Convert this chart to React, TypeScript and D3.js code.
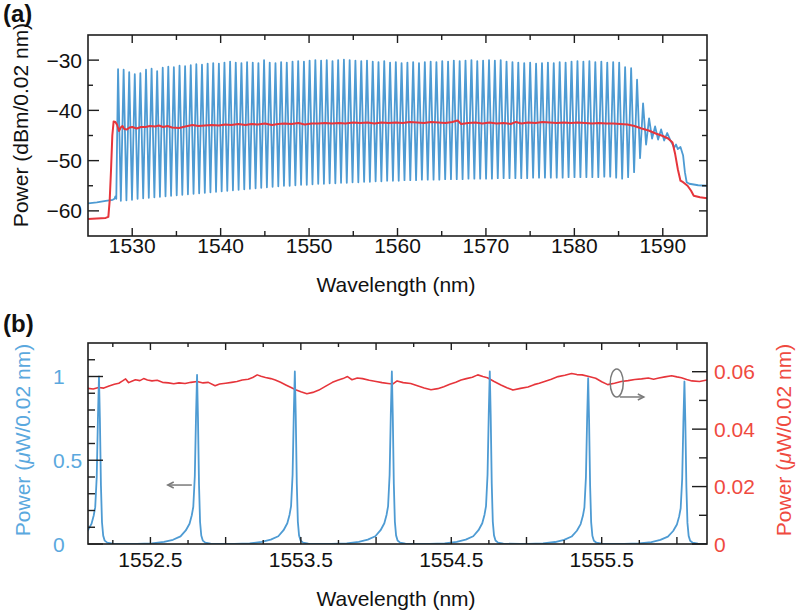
import React from 'react';
import * as d3 from 'd3';

const FONT = '"Liberation Sans", Arial, Helvetica, sans-serif';
const BLUE = '#4e9bd3';
const RED = '#e6353b';
const BLUE_TEXT = '#5aa8de';
const RED_TEXT = '#ef4a3f';
const AXIS = '#1e1e1e';
const GREY = '#7a7a7a';

// ---------------- Panel (a) data ----------------
const combWavelength = [
  1528.40, 1529.03, 1529.66, 1530.29, 1530.92, 1531.56, 1532.19, 1532.82, 1533.45, 1534.08,
  1534.71, 1535.35, 1535.98, 1536.62, 1537.25, 1537.89, 1538.53, 1539.16, 1539.80, 1540.43,
  1541.07, 1541.71, 1542.35, 1542.99, 1543.63, 1544.27, 1544.91, 1545.55, 1546.20, 1546.84,
  1547.48, 1548.13, 1548.77, 1549.42, 1550.06, 1550.71, 1551.36, 1552.00, 1552.65, 1553.29,
  1553.94, 1554.59, 1555.24, 1555.90, 1556.55, 1557.20, 1557.85, 1558.50, 1559.16, 1559.81,
  1560.46, 1561.12, 1561.77, 1562.43, 1563.09, 1563.75, 1564.40, 1565.06, 1565.72, 1566.37,
  1567.03, 1567.69, 1568.36, 1569.02, 1569.68, 1570.35, 1571.01, 1571.67, 1572.33, 1573.00,
  1573.66, 1574.33, 1575.00, 1575.67, 1576.34, 1577.01, 1577.67, 1578.34, 1579.01, 1579.68,
  1580.35, 1581.02, 1581.70, 1582.37, 1583.05, 1583.72, 1584.39, 1585.07, 1585.74, 1586.42,
  1587.09, 1587.77, 1588.45, 1589.13, 1589.81, 1590.50,
];
const combPeak = [
  -31.8, -31.9, -32.4, -32.8, -32.6, -31.9, -31.7, -32.2, -31.5, -31.3,
  -31.4, -31.1, -31.2, -31.0, -30.8, -30.9, -30.7, -30.6, -30.7, -30.5,
  -30.3, -30.5, -30.6, -30.4, -30.5, -30.6, -30.0, -30.5, -30.6, -30.4,
  -30.5, -30.3, -30.2, -30.3, -30.1, -30.0, -30.1, -30.0, -30.2, -30.0,
  -29.9, -30.0, -30.1, -30.2, -30.1, -30.3, -30.4, -30.2, -30.5, -30.4,
  -30.6, -30.5, -30.4, -30.6, -30.4, -30.3, -30.4, -30.2, -30.3, -30.1,
  -30.2, -30.1, -30.0, -30.2, -30.1, -30.0, -30.1, -30.0, -30.3, -30.4,
  -30.5, -30.6, -30.5, -30.7, -30.6, -30.5, -30.6, -30.4, -30.5, -30.3,
  -30.2, -30.3, -30.2, -30.4, -30.3, -30.5, -30.4, -30.5, -31.4, -31.6,
  -33.9, -38.6, -41.6, -43.2, -43.8, -44.5,
];
const combTrough = [
  -58.0, -57.9, -57.8, -57.6, -57.5, -57.4, -57.3, -57.2, -57.1, -57.0,
  -56.9, -56.8, -56.7, -56.6, -56.5, -56.4, -56.3, -56.2, -56.1, -56.0,
  -55.9, -55.8, -55.7, -55.6, -55.5, -55.4, -55.3, -55.2, -55.1, -55.0,
  -55.0, -54.9, -54.8, -54.8, -54.7, -54.6, -54.6, -54.5, -54.5, -54.4,
  -54.4, -54.3, -54.3, -54.2, -54.2, -54.1, -54.1, -54.0, -54.0, -54.0,
  -53.9, -53.9, -53.9, -53.8, -53.8, -53.8, -53.8, -53.7, -53.7, -53.7,
  -53.7, -53.6, -53.6, -53.6, -53.6, -53.6, -53.5, -53.5, -53.5, -53.5,
  -53.5, -53.5, -53.4, -53.4, -53.4, -53.4, -53.4, -53.4, -53.3, -53.3,
  -53.3, -53.3, -53.3, -53.3, -53.2, -53.2, -53.4, -53.6, -53.3, -52.3,
  -49.5, -46.8, -45.6, -45.8, -46.0,
];
const blueStartWl = [1525.0, 1526.0, 1527.0, 1527.8, 1528.0, 1528.1, 1528.2];
const blueStartDb = [-58.5, -58.3, -58.0, -57.8, -57.6, -57.1, -57.6];
const blueTailWl = [1590.9, 1591.3, 1591.5, 1591.7, 1592.0, 1592.3, 1592.5, 1592.7, 1593.0, 1594.0, 1595.0];
const blueTailDb = [-46.1, -47.4, -46.8, -47.7, -47.3, -49.0, -52.3, -54.3, -54.6, -54.9, -55.0];

const redWl = [
  1525.0, 1526.0, 1527.0, 1527.3, 1527.45, 1527.6, 1527.75, 1527.9, 1528.1, 1528.3,
  1528.5, 1528.7, 1528.9, 1529.1, 1529.4, 1529.7, 1530.0, 1530.5, 1531.0, 1531.5,
  1532.0, 1532.6, 1533.0, 1533.5, 1534.0, 1534.5, 1535.3, 1536.0, 1536.8, 1537.5,
  1538.2, 1539.0, 1539.8, 1540.5, 1541.2, 1542.0, 1542.8, 1543.5, 1544.2, 1545.0,
  1545.8, 1546.5, 1547.2, 1548.0, 1548.8, 1549.5, 1550.3, 1551.0, 1551.8, 1552.6,
  1553.4, 1554.1, 1555.0, 1555.8, 1556.6, 1557.4, 1558.2, 1559.0, 1559.8, 1560.6,
  1561.4, 1562.2, 1563.0, 1563.8, 1564.6, 1565.4, 1566.2, 1566.8, 1567.2, 1568.0,
  1568.8, 1569.6, 1570.4, 1571.2, 1572.0, 1572.8, 1573.4, 1574.0, 1574.8, 1575.6,
  1576.4, 1577.2, 1578.0, 1578.8, 1579.6, 1580.4, 1581.2, 1582.0, 1582.8, 1583.6,
  1584.4, 1585.2, 1586.0, 1586.8, 1587.6, 1588.4, 1589.2, 1590.0, 1590.6, 1591.1,
  1591.4, 1591.7, 1592.0, 1592.3, 1592.8, 1593.2, 1593.5, 1594.2, 1595.0,
];
const redDb = [
  -61.6, -61.5, -61.4, -61.2, -58.0, -52.0, -45.0, -42.2, -42.3, -42.9,
  -44.1, -43.4, -43.1, -43.7, -43.8, -43.4, -43.3, -43.6, -43.3, -43.3,
  -43.1, -43.2, -43.0, -43.3, -43.1, -43.4, -43.5, -43.2, -42.9, -43.1,
  -43.0, -42.9, -43.0, -42.8, -42.9, -42.7, -42.9, -42.7, -42.8, -42.6,
  -42.9, -42.7, -42.6, -42.7, -42.5, -42.8, -42.6, -42.6, -42.5, -42.6,
  -42.5, -42.6, -42.4, -42.5, -42.4, -42.6, -42.4, -42.5, -42.4, -42.5,
  -42.3, -42.4, -42.5, -42.3, -42.4, -42.5, -42.3, -42.0, -42.7, -42.5,
  -42.4, -42.6, -42.4, -42.6, -42.5, -42.7, -42.3, -42.6, -42.4, -42.5,
  -42.3, -42.4, -42.5, -42.4, -42.5, -42.4, -42.5, -42.6, -42.5, -42.6,
  -42.6, -42.7, -42.8, -43.1, -43.6, -44.0, -44.6, -45.1, -45.6, -46.4,
  -48.7, -51.7, -54.0, -54.3, -55.0, -56.0, -57.0, -57.3, -57.5,
];

const aXMajor = [1530, 1540, 1550, 1560, 1570, 1580, 1590];
const aXMinor = [1535, 1545, 1555, 1565, 1575, 1585];
const aYMajor = [-60, -50, -40, -30];
const aYMinor = [-55, -45, -35];

// ---------------- Panel (b) data ----------------
const peakCenter = [1552.158, 1552.81, 1553.46, 1554.105, 1554.756, 1555.41, 1556.05];
const peakHeight = [1.0, 1.01, 1.03, 1.03, 1.03, 0.99, 0.97];
const profileOffset = [-0.40, -0.30, -0.22, -0.16, -0.11, -0.075, -0.05, -0.035, -0.025, -0.015, -0.007, 0, 0.006, 0.013, 0.02, 0.028, 0.038, 0.055, 0.09, 0.20];
const profileLevel = [0.0, 0.004, 0.012, 0.025, 0.045, 0.08, 0.12, 0.17, 0.22, 0.40, 0.75, 1.0, 0.75, 0.35, 0.13, 0.05, 0.02, 0.008, 0.002, 0.0];

const redBWl = [
  1552.085, 1552.12, 1552.155, 1552.19, 1552.225, 1552.26, 1552.29, 1552.315, 1552.335, 1552.355,
  1552.38, 1552.40, 1552.43, 1552.455, 1552.48, 1552.51, 1552.545, 1552.58, 1552.62, 1552.655,
  1552.69, 1552.73, 1552.77, 1552.81, 1552.85, 1552.885, 1552.93, 1552.96, 1553.00, 1553.04,
  1553.075, 1553.11, 1553.15, 1553.18, 1553.21, 1553.235, 1553.265, 1553.30, 1553.33, 1553.365,
  1553.40, 1553.435, 1553.465, 1553.50, 1553.54, 1553.58, 1553.62, 1553.66, 1553.71, 1553.745,
  1553.78, 1553.81, 1553.84, 1553.875, 1553.91, 1553.955, 1554.00, 1554.04, 1554.08, 1554.11,
  1554.14, 1554.18, 1554.23, 1554.27, 1554.32, 1554.365, 1554.41, 1554.45, 1554.49, 1554.53,
  1554.565, 1554.60, 1554.64, 1554.676, 1554.71, 1554.74, 1554.785, 1554.83, 1554.87, 1554.91,
  1554.96, 1555.01, 1555.05, 1555.085, 1555.12, 1555.165, 1555.21, 1555.255, 1555.30, 1555.335,
  1555.37, 1555.415, 1555.46, 1555.50, 1555.54, 1555.585, 1555.63, 1555.675, 1555.72, 1555.765,
  1555.81, 1555.845, 1555.88, 1555.92, 1555.965, 1556.00, 1556.03, 1556.065, 1556.10, 1556.15,
  1556.20,
];
const redBVal = [
  0.0542, 0.0540, 0.0545, 0.0543, 0.0550, 0.0556, 0.0560, 0.0568, 0.0575, 0.0562,
  0.0568, 0.0572, 0.0569, 0.0576, 0.0571, 0.0568, 0.0570, 0.0563, 0.0561, 0.0558,
  0.0561, 0.0559, 0.0563, 0.0566, 0.0561, 0.0563, 0.0551, 0.0557, 0.0560, 0.0563,
  0.0566, 0.0571, 0.0574, 0.0580, 0.0589, 0.0584, 0.0580, 0.0576, 0.0571, 0.0563,
  0.0554, 0.0545, 0.0537, 0.0530, 0.0523, 0.0528, 0.0536, 0.0548, 0.0563, 0.0570,
  0.0576, 0.0583, 0.0572, 0.0578, 0.0576, 0.0570, 0.0566, 0.0562, 0.0559, 0.0557,
  0.0568, 0.0562, 0.0559, 0.0552, 0.0543, 0.0537, 0.0541, 0.0548, 0.0556, 0.0563,
  0.0571, 0.0576, 0.0581, 0.0589, 0.0583, 0.0579, 0.0566, 0.0554, 0.0544, 0.0536,
  0.0542, 0.0547, 0.0555, 0.0560, 0.0566, 0.0574, 0.0583, 0.0588, 0.0594, 0.0590,
  0.0589, 0.0583, 0.0577, 0.0565, 0.0555, 0.0560, 0.0566, 0.0569, 0.0573, 0.0575,
  0.0578, 0.0574, 0.0578, 0.0582, 0.0586, 0.0582, 0.0579, 0.0573, 0.0568, 0.0566,
  0.0571,
];

const bXMajor = [1552.5, 1553, 1553.5, 1554, 1554.5, 1555, 1555.5, 1556];
const bXMinor = [1552.25, 1552.75, 1553.25, 1553.75, 1554.25, 1554.75, 1555.25, 1555.75];
const bXLabels = [1552.5, 1553.5, 1554.5, 1555.5];
const bLeftMajor = [0, 0.5, 1];
const bLeftMinor = [0.1, 0.2, 0.3, 0.4, 0.6, 0.7, 0.8, 0.9, 1.1];
const bLeftLabels = ['0', '0.5', '1'];
const bRightMajor = [0, 0.02, 0.04, 0.06];
const bRightMinor = [0.01, 0.03, 0.05];
const bRightLabels = ['0', '0.02', '0.04', '0.06'];

// annotation anchors (data units)
const leftArrow = { from: 1552.775, to: 1552.615, y: 0.352 };
const rotSymbol = { x: 1555.6, y: 0.0561, arrowFrom: 1555.62, arrowTo: 1555.78, arrowY: 0.0512 };

const FS = 21;

export default function App() {
  const A = { l: 88, t: 35, r: 707, b: 236 };
  const B = { l: 88, t: 343, r: 707, b: 544 };

  const xa = d3.scaleLinear().domain([1525, 1595]).range([A.l, A.r]);
  const ya = d3.scaleLinear().domain([-65, -25]).range([A.b, A.t]);
  const xb = d3.scaleLinear().domain([1552.085, 1556.2]).range([B.l, B.r]);
  const ybl = d3.scaleLinear().domain([0, 1.2]).range([B.b, B.t]);
  const ybr = d3.scaleLinear().domain([0, 0.07]).range([B.b, B.t]);

  // blue comb for (a)
  const bluePts: [number, number][] = blueStartWl.map((w, i) => [w, blueStartDb[i]]);
  combWavelength.forEach((w, i) => {
    bluePts.push([w, combPeak[i]]);
    if (i < combWavelength.length - 1) {
      bluePts.push([(w + combWavelength[i + 1]) / 2, combTrough[i]]);
    }
  });
  blueTailWl.forEach((w, i) => bluePts.push([w, blueTailDb[i]]));
  const redPts: [number, number][] = redWl.map((w, i) => [w, redDb[i]]);

  const lineA = d3.line<[number, number]>().x(d => xa(d[0])).y(d => ya(d[1]));

  // blue for (b)
  const blueB: [number, number][] = [];
  peakCenter.forEach((c, k) => {
    profileOffset.forEach((o, j) => blueB.push([c + o, profileLevel[j] * peakHeight[k]]));
  });
  const lineBL = d3.line<[number, number]>().x(d => xb(d[0])).y(d => ybl(d[1]));
  const redB: [number, number][] = redBWl.map((w, i) => [w, redBVal[i]]);
  const lineBR = d3.line<[number, number]>().x(d => xb(d[0])).y(d => ybr(d[1]));

  const tick = (key: string, x1: number, y1: number, x2: number, y2: number) => (
    <line key={key} x1={x1} y1={y1} x2={x2} y2={y2} stroke={AXIS} strokeWidth={1.4} />
  );

  const fmtMinus = (v: number) => (v < 0 ? '\u2212' + Math.abs(v) : String(v));

  return (
    <svg width={800} height={614} style={{ position: 'absolute', left: 0, top: 0, background: '#fff' }} fontFamily={FONT}>
      <defs>
        <clipPath id="clipA"><rect x={A.l} y={A.t} width={A.r - A.l} height={A.b - A.t} /></clipPath>
        <clipPath id="clipB"><rect x={B.l} y={B.t - 2} width={B.r - B.l} height={B.b - B.t + 2} /></clipPath>
      </defs>
      <rect x={0} y={0} width={800} height={614} fill="#fff" />

      {/* ---------- Panel (a) ---------- */}
      <text x={3} y={22} fontSize={24} fontWeight="bold" fill="#111">(a)</text>
      <g clipPath="url(#clipA)">
        <path d={lineA(bluePts) || ''} fill="none" stroke={BLUE} strokeWidth={1.8} strokeLinejoin="round" />
        <path d={lineA(redPts) || ''} fill="none" stroke={RED} strokeWidth={2} strokeLinejoin="round" />
      </g>
      {aXMajor.map(v => tick('axb' + v, xa(v), A.b, xa(v), A.b - 8))}
      {aXMajor.map(v => tick('axt' + v, xa(v), A.t, xa(v), A.t + 8))}
      {aXMinor.map(v => tick('axbm' + v, xa(v), A.b, xa(v), A.b - 5))}
      {aXMinor.map(v => tick('axtm' + v, xa(v), A.t, xa(v), A.t + 5))}
      {aYMajor.map(v => tick('ayl' + v, A.l, ya(v), A.l + 11, ya(v)))}
      {aYMajor.map(v => tick('ayr' + v, A.r, ya(v), A.r - 8, ya(v)))}
      {aYMinor.map(v => tick('aylm' + v, A.l, ya(v), A.l + 5, ya(v)))}
      {aYMinor.map(v => tick('ayrm' + v, A.r, ya(v), A.r - 5, ya(v)))}
      <rect x={A.l} y={A.t} width={A.r - A.l} height={A.b - A.t} fill="none" stroke={AXIS} strokeWidth={1.6} />
      {aXMajor.map(v => (
        <text key={'axl' + v} x={xa(v)} y={253} fontSize={FS} textAnchor="middle" fill="#111">{v}</text>
      ))}
      {aYMajor.map(v => (
        <text key={'ayl' + v} x={82} y={ya(v) + FS * 0.36} fontSize={FS} textAnchor="end" fill="#111">{fmtMinus(v)}</text>
      ))}
      <text x={396} y={292} fontSize={FS} textAnchor="middle" fill="#111">Wavelength (nm)</text>
      <text transform="translate(28,125) rotate(-90)" fontSize={FS} textAnchor="middle" fill="#111">Power (dBm/0.02 nm)</text>

      {/* ---------- Panel (b) ---------- */}
      <text x={3} y={332} fontSize={24} fontWeight="bold" fill="#111">(b)</text>
      <g clipPath="url(#clipB)">
        <path d={lineBR(redB) || ''} fill="none" stroke={RED} strokeWidth={1.6} strokeLinejoin="round" />
        <path d={lineBL(blueB) || ''} fill="none" stroke={BLUE} strokeWidth={1.8} strokeLinejoin="round" />
      </g>
      {bXMajor.map(v => tick('bxb' + v, xb(v), B.b, xb(v), B.b - 7))}
      {bXMajor.map(v => tick('bxt' + v, xb(v), B.t, xb(v), B.t + 7))}
      {bXMinor.map(v => tick('bxbm' + v, xb(v), B.b, xb(v), B.b - 4))}
      {bXMinor.map(v => tick('bxtm' + v, xb(v), B.t, xb(v), B.t + 4))}
      {bLeftMajor.map(v => tick('bl' + v, B.l, ybl(v), B.l + 15, ybl(v)))}
      {bLeftMinor.map(v => tick('blm' + v, B.l, ybl(v), B.l + 7, ybl(v)))}
      {bRightMajor.map(v => tick('br' + v, B.r, ybr(v), B.r - 15, ybr(v)))}
      {bRightMinor.map(v => tick('brm' + v, B.r, ybr(v), B.r - 8, ybr(v)))}
      <rect x={B.l} y={B.t} width={B.r - B.l} height={B.b - B.t} fill="none" stroke={AXIS} strokeWidth={1.6} />
      {bXLabels.map(v => (
        <text key={'bxl' + v} x={xb(v)} y={567} fontSize={FS} textAnchor="middle" fill="#111">{v.toFixed(1)}</text>
      ))}
      {bLeftMajor.map((v, i) => (
        <text key={'bll' + v} x={53} y={ybl(v) + FS * 0.36} fontSize={FS} textAnchor="start" fill={BLUE_TEXT}>{bLeftLabels[i]}</text>
      ))}
      {bRightMajor.map((v, i) => (
        <text key={'brl' + v} x={714} y={ybr(v) + FS * 0.36} fontSize={FS} textAnchor="start" fill={RED_TEXT}>{bRightLabels[i]}</text>
      ))}
      <text x={396} y={606} fontSize={FS} textAnchor="middle" fill="#111">Wavelength (nm)</text>
      <text transform="translate(30,440) rotate(-90)" fontSize={FS} textAnchor="middle" fill={BLUE_TEXT}>
        Power (<tspan fontStyle="italic">μ</tspan>W/0.02 nm)
      </text>
      <text transform="translate(791,440) rotate(-90)" fontSize={FS} textAnchor="middle" fill={RED_TEXT}>
        Power (<tspan fontStyle="italic">μ</tspan>W/0.02 nm)
      </text>

      {/* annotations */}
      <g stroke={GREY} strokeWidth={1.5} fill="none">
        <line x1={xb(leftArrow.from)} y1={ybl(leftArrow.y)} x2={xb(leftArrow.to)} y2={ybl(leftArrow.y)} />
        <path d={`M${xb(leftArrow.to) + 6},${ybl(leftArrow.y) - 3} L${xb(leftArrow.to)},${ybl(leftArrow.y)} L${xb(leftArrow.to) + 6},${ybl(leftArrow.y) + 3}`} />
        <ellipse cx={xb(rotSymbol.x)} cy={ybr(rotSymbol.y)} rx={6.5} ry={14} />
        <line x1={xb(rotSymbol.arrowFrom)} y1={ybr(rotSymbol.arrowY)} x2={xb(rotSymbol.arrowTo)} y2={ybr(rotSymbol.arrowY)} />
        <path d={`M${xb(rotSymbol.arrowTo) - 6},${ybr(rotSymbol.arrowY) - 3} L${xb(rotSymbol.arrowTo)},${ybr(rotSymbol.arrowY)} L${xb(rotSymbol.arrowTo) - 6},${ybr(rotSymbol.arrowY) + 3}`} />
      </g>
    </svg>
  );
}
